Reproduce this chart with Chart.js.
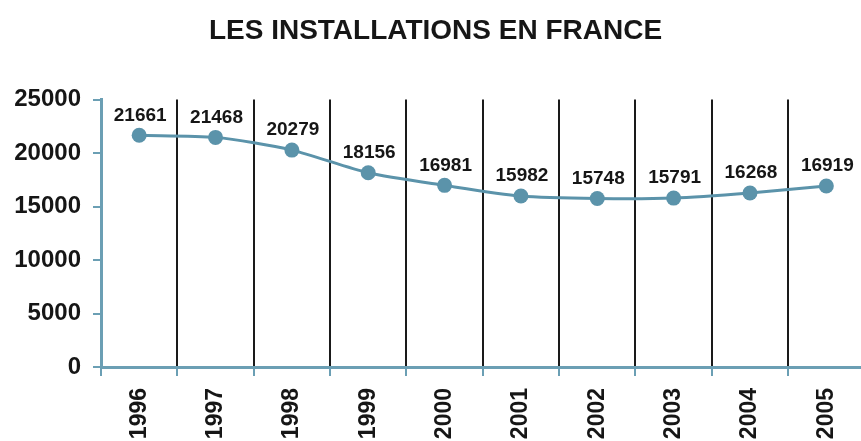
<!DOCTYPE html>
<html>
<head>
<meta charset="utf-8">
<script src="https://cdn.jsdelivr.net/npm/chart.js@4.4.1/dist/chart.umd.min.js"></script>
<style>
  html, body { margin: 0; padding: 0; background: #fff; overflow: hidden; }
  #wrap { width: 861px; height: 441px; overflow: hidden; position: relative; }
  #chart { display: block; }
</style>
</head>
<body>
<div id="wrap"><canvas id="chart" width="872" height="441"></canvas></div>
<script>
// données
const TITLE = 'LES INSTALLATIONS EN FRANCE';
const YEARS = ['1996', '1997', '1998', '1999', '2000', '2001', '2002', '2003', '2004', '2005'];
const INSTALLATIONS = [21661, 21468, 20279, 18156, 16981, 15982, 15748, 15791, 16268, 16919];
const Y_TICKS = [0, 5000, 10000, 15000, 20000, 25000];

const BLUE = '#5b93aa';
const AXIS = '#6b9fb4';
const INK = '#161616';
const FONT = '"Liberation Sans", Arial, sans-serif';

// étiquettes de valeur au-dessus des points
const valueLabels = {
  id: 'valueLabels',
  afterDatasetsDraw(chart) {
    const { ctx } = chart;
    const meta = chart.getDatasetMeta(0);
    ctx.save();
    ctx.font = `bold 19px ${FONT}`;
    ctx.fillStyle = INK;
    ctx.textAlign = 'center';
    ctx.textBaseline = 'middle';
    meta.data.forEach((pt, i) => {
      ctx.fillText(String(INSTALLATIONS[i]), pt.x + 1, pt.y - 20);
    });
    ctx.restore();
  },
};

new Chart(document.getElementById('chart'), {
  type: 'line',
  data: {
    labels: YEARS,
    datasets: [{
      data: INSTALLATIONS,
      borderColor: BLUE,
      backgroundColor: BLUE,
      borderWidth: 3,
      pointRadius: 7.5,
      pointBackgroundColor: BLUE,
      pointBorderWidth: 0,
      tension: 0.25,
    }],
  },
  options: {
    responsive: false,
    animation: false,
    devicePixelRatio: 1,
    layout: { padding: { left: 0, right: 1, top: 0, bottom: 0 } },
    plugins: {
      legend: { display: false },
      tooltip: { enabled: false },
      title: {
        display: true,
        text: TITLE,
        color: INK,
        font: { family: FONT, size: 28, weight: 'bold' },
        padding: { top: 14, bottom: 52 },
      },
    },
    scales: {
      x: {
        offset: true,
        grid: {
          offset: true,
          color: '#1a1a1a',
          lineWidth: 2,
          tickColor: AXIS,
          tickLength: 9,
          tickWidth: 2,
        },
        border: { color: AXIS, width: 3 },
        ticks: {
          color: INK,
          font: { family: FONT, size: 23, weight: 'bold' },
          minRotation: 90,
          maxRotation: 90,
          padding: 12,
          autoSkip: false,
        },
        afterFit: (s) => { s.height = 74; },
      },
      y: {
        min: 0,
        max: 25000,
        afterBuildTicks: (s) => { s.ticks = Y_TICKS.map((v) => ({ value: v })); },
        grid: {
          drawOnChartArea: false,
          color: AXIS,
          tickLength: 8,
          lineWidth: 2,
        },
        border: { color: AXIS, width: 3 },
        ticks: {
          color: INK,
          font: { family: FONT, size: 24, weight: 'bold' },
          padding: 12,
          callback: (v) => String(v),
        },
        afterFit: (s) => { s.width = 101; },
      },
    },
  },
  plugins: [valueLabels],
});
</script>
</body>
</html>
